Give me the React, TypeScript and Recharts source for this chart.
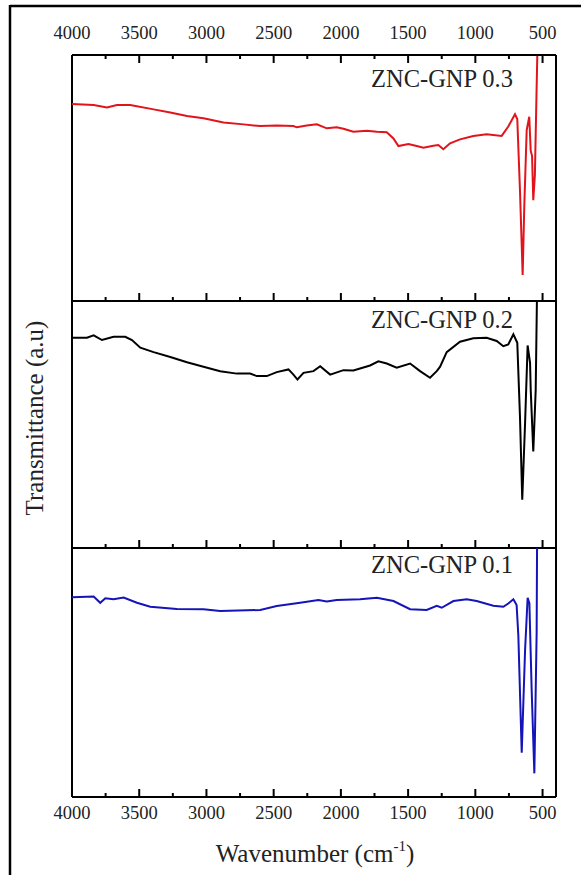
import React from 'react'
import { LineChart, Line, XAxis, YAxis, ReferenceLine } from 'recharts'

// x axis ticks (wavenumber, cm-1): majors every 500, minors in between
const majorTicks = [4000, 3500, 3000, 2500, 2000, 1500, 1000, 500]
const minorTicks = [3750, 3250, 2750, 2250, 1750, 1250, 750]

// ZNC-GNP 0.3 (red)
const wn03 = [4000, 3839, 3740, 3666, 3567, 3393, 3269, 3145, 3022, 2873, 2724, 2600, 2477, 2353, 2328, 2254, 2179, 2105, 2031, 1981, 1907, 1807, 1733, 1659, 1609, 1572, 1498, 1436, 1386, 1312, 1275, 1238, 1188, 1114, 1015, 916, 804, 755, 705, 688, 668, 648, 636, 618, 599, 588, 578, 569, 557, 544, 539]
const t03 = [80.1, 79.7, 78.7, 79.7, 79.7, 77.9, 76.6, 75.2, 74.3, 72.6, 71.8, 71.1, 71.3, 71.1, 70.6, 71.3, 71.8, 70.2, 70.6, 70.0, 68.8, 69.2, 68.8, 68.6, 66.1, 63.0, 63.8, 63.0, 62.3, 63.1, 63.4, 61.7, 64.1, 65.7, 67.1, 67.8, 67.1, 70.9, 75.9, 74.0, 45.0, 10.6, 38.3, 69.5, 74.9, 61.0, 59.0, 41.0, 51.2, 87.0, 100]

// ZNC-GNP 0.2 (black)
const wn02 = [4000, 3889, 3839, 3777, 3691, 3604, 3554, 3492, 3393, 3269, 3145, 3022, 2898, 2774, 2675, 2625, 2551, 2477, 2390, 2353, 2323, 2278, 2204, 2154, 2080, 1981, 1907, 1783, 1721, 1659, 1585, 1485, 1411, 1337, 1287, 1262, 1213, 1114, 1015, 916, 841, 792, 755, 717, 688, 668, 651, 630, 611, 593, 588, 569, 551, 542]
const t02 = [85.1, 85.1, 86.1, 84.2, 85.5, 85.5, 84.2, 81.1, 79.3, 77.3, 75.2, 73.4, 71.6, 70.6, 70.6, 69.6, 69.6, 71.2, 72.3, 70.2, 68.2, 70.9, 71.6, 73.6, 70.2, 72.0, 71.9, 73.9, 75.6, 74.7, 73.0, 74.7, 71.6, 68.9, 71.6, 73.4, 79.3, 83.5, 84.9, 85.1, 83.8, 81.7, 82.4, 86.5, 83.1, 53.3, 19.5, 50.6, 82.0, 75.0, 64.0, 39.1, 64.0, 100]

// ZNC-GNP 0.1 (blue)
const wn01 = [4000, 3839, 3790, 3752, 3691, 3616, 3517, 3418, 3220, 3022, 2898, 2600, 2477, 2303, 2167, 2105, 2031, 1857, 1733, 1609, 1485, 1362, 1287, 1250, 1163, 1064, 990, 866, 792, 755, 717, 693, 680, 655, 630, 611, 598, 581, 561, 544, 541]
const t01 = [80.2, 80.5, 78.0, 79.8, 79.4, 80.1, 78.0, 76.4, 75.5, 75.4, 74.7, 75.1, 76.7, 78.0, 79.1, 78.5, 79.1, 79.4, 80.0, 78.7, 75.4, 75.1, 76.8, 76.0, 78.7, 79.4, 78.7, 76.8, 76.4, 77.7, 79.4, 77.1, 64.7, 17.8, 59.0, 80.0, 77.8, 43.0, 9.5, 65.9, 100]

const FONT = "'Liberation Serif', 'Times New Roman', serif"

const zip = (wn: number[], t: number[]) => wn.map((w, i) => ({ wn: w, t: t[i] }))

const W = 581
const H = 875
const PLOT_TOP = 55
const PLOT_BOTTOM = 797
const PLOT_LEFT = 72
const PLOT_RIGHT = 556

// each panel gets its own hidden y axis, whose domain places 0..100 inside the panel band
const panels = [
  { id: 'p1', label: 'ZNC-GNP 0.3', color: '#e2141b', data: zip(wn03, t03), top: 55, bottom: 301, labelY: 87 },
  { id: 'p2', label: 'ZNC-GNP 0.2', color: '#000000', data: zip(wn02, t02), top: 301, bottom: 548, labelY: 328 },
  { id: 'p3', label: 'ZNC-GNP 0.1', color: '#1414b8', data: zip(wn01, t01), top: 548, bottom: 797, labelY: 573 },
].map((p) => {
  const u = 100 / (p.bottom - p.top)
  return { ...p, u, domain: [-(PLOT_BOTTOM - p.bottom) * u, 100 + (p.top - PLOT_TOP) * u] }
})

const makeLabel = (dy: number) => (props: any) => {
  const { x, y, payload } = props
  return (
    <text x={x} y={y + dy} textAnchor="middle" fontFamily={FONT} fontSize={18.5} fill="#222">
      {payload.value}
    </text>
  )
}

const axisLine = { stroke: '#000', strokeWidth: 2 }

export default function App() {
  const marks: React.ReactNode[] = []
  panels.forEach((p, i) => {
    const ticks = [
      ...majorTicks.map((v) => ({ v, len: 8 * p.u })),
      ...minorTicks.map((v) => ({ v, len: 4 * p.u })),
    ]
    ticks.forEach((m) => {
      marks.push(
        <ReferenceLine
          key={`${p.id}b${m.v}`}
          xAxisId="b"
          yAxisId={p.id}
          segment={[{ x: m.v, y: 0 }, { x: m.v, y: m.len }]}
          stroke="#000"
          strokeWidth={2}
        />
      )
      if (i === 0) {
        marks.push(
          <ReferenceLine
            key={`${p.id}t${m.v}`}
            xAxisId="b"
            yAxisId={p.id}
            segment={[{ x: m.v, y: 100 }, { x: m.v, y: 100 - m.len }]}
            stroke="#000"
            strokeWidth={2}
          />
        )
      }
    })
    if (i < 2) {
      marks.push(
        <ReferenceLine key={`${p.id}sep`} xAxisId="b" yAxisId={p.id} y={0} stroke="#000" strokeWidth={2} />
      )
    }
  })

  return (
    <div style={{ position: 'absolute', left: 0, top: 0, width: W, height: H, background: '#fff' }}>
      <LineChart
        width={W}
        height={H}
        margin={{ top: PLOT_TOP - 1, bottom: H - PLOT_BOTTOM - 1, left: PLOT_LEFT, right: W - PLOT_RIGHT }}
      >
        <XAxis
          xAxisId="b"
          dataKey="wn"
          type="number"
          domain={[400, 4000]}
          allowDataOverflow
          reversed
          ticks={majorTicks}
          interval={0}
          height={1}
          tickSize={0}
          tickMargin={0}
          tickLine={false}
          axisLine={axisLine}
          tick={makeLabel(22)}
        />
        <XAxis
          xAxisId="t"
          orientation="top"
          dataKey="wn"
          type="number"
          domain={[400, 4000]}
          allowDataOverflow
          reversed
          ticks={majorTicks}
          interval={0}
          height={1}
          tickSize={0}
          tickMargin={0}
          tickLine={false}
          axisLine={axisLine}
          tick={makeLabel(-16.5)}
        />
        {panels.map((p) => (
          <YAxis key={p.id} yAxisId={p.id} type="number" domain={p.domain} allowDataOverflow hide width={0} />
        ))}
        <ReferenceLine xAxisId="b" yAxisId="p3" x={4000} stroke="#000" strokeWidth={2} />
        <ReferenceLine xAxisId="b" yAxisId="p3" x={400} stroke="#000" strokeWidth={2} />
        {marks}
        {panels.map((p) => (
          <Line
            key={p.id}
            xAxisId="b"
            yAxisId={p.id}
            data={p.data}
            type="linear"
            dataKey="t"
            stroke={p.color}
            strokeWidth={2}
            dot={false}
            isAnimationActive={false}
          />
        ))}
      </LineChart>
      <svg width={W} height={H} style={{ position: 'absolute', left: 0, top: 0, pointerEvents: 'none' }}>
        <line x1={10} y1={6} x2={W} y2={6} stroke="#000" strokeWidth={2.5} />
        <line x1={10} y1={5} x2={10} y2={H} stroke="#000" strokeWidth={2.5} />
        {panels.map((p) => (
          <text key={p.label} x={513} y={p.labelY} textAnchor="end" fontFamily={FONT} fontSize={24.5} fill="#222">
            {p.label}
          </text>
        ))}
        <text x={315} y={862} textAnchor="middle" fontFamily={FONT} fontSize={25} fill="#222">
          Wavenumber (cm
          <tspan fontSize={15} dy={-11}>-1</tspan>
          <tspan dy={11}>)</tspan>
        </text>
        <text
          transform="translate(43, 418) rotate(-90)"
          textAnchor="middle"
          fontFamily={FONT}
          fontSize={25}
          fill="#222"
        >
          Transmittance (a.u)
        </text>
      </svg>
    </div>
  )
}
